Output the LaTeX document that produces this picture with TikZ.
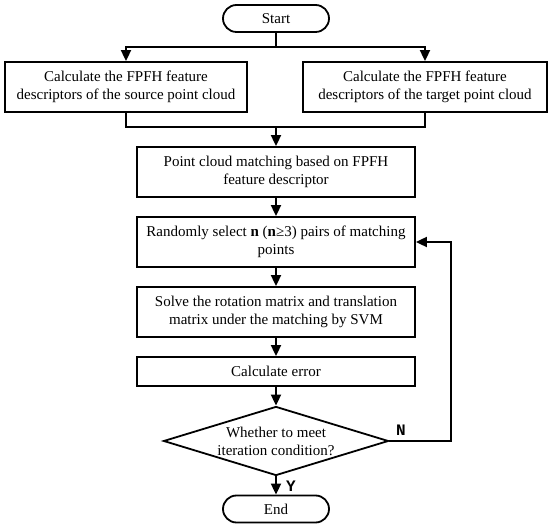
\documentclass[tikz,border=0pt]{standalone}
\usepackage{fontspec}
\setmainfont{Liberation Serif}
\newfontfamily\answerfont{Liberation Mono}
\usetikzlibrary{arrows.meta, shapes.geometric, calc}

\begin{document}
\begin{tikzpicture}[x=1pt, y=-1pt, line width=1.8pt,
        font=\fontsize{15}{18}\selectfont,
        process/.style={draw, rectangle, align=center, inner sep=0pt, minimum width=278pt, minimum height=50pt},
        terminal/.style={draw, rectangle, rounded corners=13.5pt, minimum width=106pt, minimum height=27pt, inner sep=0pt},
        decision/.style={draw, diamond, aspect=3.26, minimum width=225pt, minimum height=69pt, inner sep=-3pt, align=center},
        flow/.style={-{Triangle[length=11pt, width=10pt]}},
        answer/.style={font=\answerfont\bfseries\fontsize{16}{16}\selectfont}]
        \useasboundingbox (0,0) rectangle (550,526);

        % Terminals
        \node[terminal] (start) at (276,18.5) {Start};
        \node[terminal] (end) at (276,509) {End};

        % Feature descriptors
        \node[process, minimum width=242pt] (source) at (126,87) {Calculate the FPFH feature\\descriptors of the source point cloud};
        \node[process, minimum width=244pt] (target) at (425,87) {Calculate the FPFH feature\\descriptors of the target point cloud};

        % Main column
        \node[process] (match) at (276,172) {Point cloud matching based on FPFH\\feature descriptor};
        \node[process] (select) at (276,242) {Randomly select \textbf{n} (\textbf{n}≥3) pairs of matching\\points};
        \node[process] (solve) at (276,312) {Solve the rotation matrix and translation\\matrix under the matching by SVM};
        \node[process, minimum height=29pt] (error) at (276,371.5) {Calculate error};
        \node[decision] (check) at (276,441) {Whether to meet\\iteration condition?};

        % Split and merge
        \coordinate (split) at (276,47);
        \coordinate (merge) at (276,127);
        \draw (start) -- (split);
        \draw[flow] (split) -| (source);
        \draw[flow] (split) -| (target);
        \draw (source) |- (merge);
        \draw (target) |- (merge);
        \draw[flow] (merge) -- (match);

        % Steps
        \draw[flow] (match) -- (select);
        \draw[flow] (select) -- (solve);
        \draw[flow] (solve) -- (error);
        \draw[flow] (error) -- (check);
        \draw[flow] (check) -- (end);

        % Iteration loop
        \coordinate (loop) at (451,441);
        \draw[flow] (check.east) -- (loop) |- (select.east);

        % Branch labels
        \node[answer] (no) at (401,430) {N};
        \node[answer] (yes) at (291,486) {Y};
    \end{tikzpicture}
\end{document}
